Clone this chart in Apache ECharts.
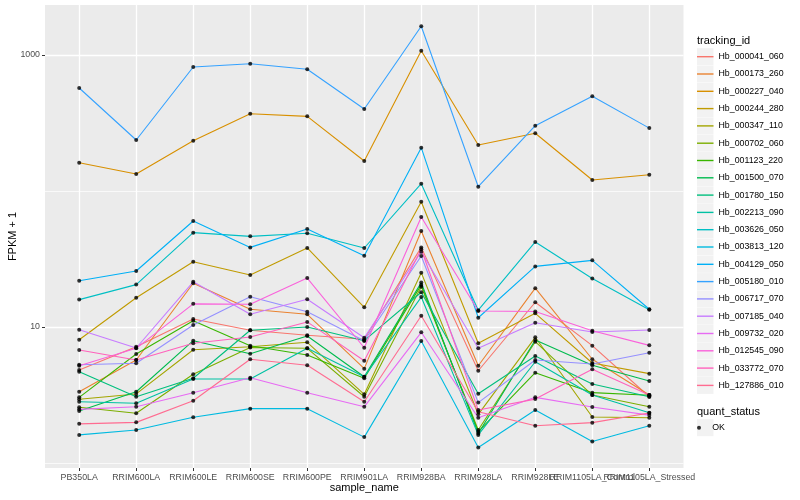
<!DOCTYPE html>
<html><head><meta charset="utf-8">
<script src="https://cdn.jsdelivr.net/npm/echarts@6/dist/echarts.min.js"></script>
<style>html,body{margin:0;padding:0;background:#fff}#c{width:800px;height:500px}</style>
</head><body><div id="c"></div>
<script>
const categories = ['PB350LA','RRIM600LA','RRIM600LE','RRIM600SE','RRIM600PE','RRIM901LA','RRIM928BA','RRIM928LA','RRIM928LE','RRIM1105LA_Control','RRIM1105LA_Stressed'];
const trackingIds = ['Hb_000041_060','Hb_000173_260','Hb_000227_040','Hb_000244_280','Hb_000347_110','Hb_000702_060','Hb_001123_220','Hb_001500_070','Hb_001780_150','Hb_002213_090','Hb_003626_050','Hb_003813_120','Hb_004129_050','Hb_005180_010','Hb_006717_070','Hb_007185_040','Hb_009732_020','Hb_012545_090','Hb_033772_070','Hb_127886_010'];
const colors = ['#F8766D','#EA8331','#D89000','#C09B00','#A3A500','#7CAE00','#39B600','#00BB4E','#00BF7D','#00C1A3','#00BFC4','#00BAE0','#00B0F6','#35A2FF','#9590FF','#C77CFF','#E76BF3','#FA62DB','#FF62BC','#FF6C91'];
const yMajorTicks = [10, 1000];
const yMinorTicks = [1, 100];

const hb_000041_060 = [4.83, 7.16, 11.45, 9.46, 8.69, 8.12, 38.5, 4.77, 15.2, 7.29, 3.07];
const hb_000173_260 = [3.34, 5.72, 20.96, 13.5, 12.4, 4.94, 50.8, 5.19, 19.3, 5.79, 3.16];
const hb_000227_040 = [161.5, 133.4, 234.4, 370, 354, 166.2, 1075, 217.9, 265.7, 120.5, 131.8];
const hb_000244_280 = [8.06, 16.4, 30.2, 24.1, 38.1, 13.96, 83.4, 7.59, 12.6, 5.44, 4.54];
const hb_000347_110 = [2.94, 3.22, 6.81, 7.16, 7.72, 3.20, 25.1, 2.28, 8.40, 2.18, 2.15];
const hb_000702_060 = [2.57, 2.32, 4.49, 7.07, 6.97, 3.07, 19.8, 1.75, 7.80, 3.16, 2.59];
const hb_001123_220 = [3.04, 6.33, 11.1, 7.29, 6.22, 4.20, 20.4, 1.70, 4.61, 3.29, 3.15];
const hb_001500_070 = [2.41, 3.34, 7.93, 6.36, 8.59, 4.31, 21.2, 1.65, 8.02, 5.23, 4.01];
const hb_001780_150 = [4.69, 3.07, 4.20, 9.46, 10.0, 7.93, 18.0, 3.23, 6.12, 3.81, 3.07];
const hb_002213_090 = [2.82, 2.75, 4.15, 4.15, 6.97, 4.31, 16.6, 1.61, 5.55, 3.16, 2.34];
const hb_003626_050 = [15.9, 20.5, 49.4, 46.4, 48.9, 38.1, 113.2, 13.3, 42.2, 22.7, 13.4];
const hb_003813_120 = [1.61, 1.75, 2.17, 2.51, 2.51, 1.55, 7.89, 1.30, 2.45, 1.44, 1.88];
const hb_004129_050 = [21.9, 25.8, 60.2, 38.5, 52.6, 33.4, 208.2, 11.7, 27.9, 30.9, 13.5];
const hb_005180_010 = [572, 237, 816, 863, 785, 401, 1626, 107.5, 302, 497, 290];
const hb_006717_070 = [5.28, 5.41, 10.34, 16.7, 12.96, 7.93, 33.3, 2.78, 5.72, 5.34, 6.47];
const hb_007185_040 = [9.55, 7.01, 21.5, 12.4, 16.0, 8.34, 35.8, 6.97, 10.75, 9.19, 9.50];
const hb_009732_020 = [2.48, 2.59, 3.29, 4.24, 3.29, 2.59, 9.14, 2.15, 3.04, 2.58, 2.25];
const hb_012545_090 = [5.19, 6.97, 14.8, 14.7, 22.9, 7.04, 64.4, 13.1, 13.0, 9.39, 7.33];
const hb_033772_070 = [6.77, 5.72, 7.59, 8.44, 10.9, 5.65, 37.3, 2.45, 2.95, 4.89, 3.16];
const hb_127886_010 = [1.94, 1.99, 2.87, 5.79, 5.23, 2.82, 12.1, 2.38, 1.88, 1.98, 2.33];

const seriesValues = [hb_000041_060, hb_000173_260, hb_000227_040, hb_000244_280, hb_000347_110, hb_000702_060, hb_001123_220, hb_001500_070, hb_001780_150, hb_002213_090, hb_003626_050, hb_003813_120, hb_004129_050, hb_005180_010, hb_006717_070, hb_007185_040, hb_009732_020, hb_012545_090, hb_033772_070, hb_127886_010];

const FONT = 'Liberation Sans, Arial, sans-serif';
const catIdx = categories.map((c, i) => i);
// labels split over two axes so overlapping neighbours are both kept (as in the original)
const labelIdxA = catIdx.filter(i => i !== 9);
const labelIdxB = [9];

const lineSeries = trackingIds.map((id, k) => ({
  name: id,
  type: 'line',
  data: seriesValues[k].map((v, i) => [i, v]),
  symbol: 'none',
  color: colors[k],
  lineStyle: { width: 1.1, color: colors[k] },
  z: 2,
  silent: true
}));
const pointData = [];
seriesValues.forEach(arr => arr.forEach((v, i) => pointData.push([i, v])));
const pointSeries = {
  name: 'OK', type: 'scatter', data: pointData, symbol: 'circle', symbolSize: 4,
  itemStyle: { color: '#000' }, z: 5, silent: true
};

// legend key backgrounds (ggplot style)
const LEG_TOP = 48.05, LEG_STEP = 17.3;
const keyRects = trackingIds.map((id, i) => ({
  type: 'rect', left: 697, top: LEG_TOP + i * LEG_STEP + 0.15,
  shape: { width: 16.5, height: 17 }, style: { fill: '#F2F2F2' }, z: -1
}));
keyRects.push({ type: 'rect', left: 697, top: 419.15, shape: { width: 16.5, height: 17 }, style: { fill: '#F2F2F2' }, z: -1 });

const xLabelStyle = { margin: 5, fontFamily: FONT, fontSize: 8.8, color: '#4D4D4D',
  hideOverlap: false, formatter: v => categories[Math.round(v)] };

const chart = echarts.init(document.getElementById('c'), null, { renderer: 'canvas' });
chart.setOption({
  animation: false,
  backgroundColor: '#fff',
  textStyle: { fontFamily: FONT },
  title: [
    { text: 'tracking_id', left: 697, top: 34.5, padding: 0, textStyle: { fontFamily: FONT, fontSize: 11, fontWeight: 'normal', color: '#000', lineHeight: 13 } },
    { text: 'quant_status', left: 697, top: 405.2, padding: 0, textStyle: { fontFamily: FONT, fontSize: 11, fontWeight: 'normal', color: '#000', lineHeight: 13 } }
  ],
  graphic: keyRects,
  legend: [
    {
      data: trackingIds, orient: 'vertical', left: 697, top: LEG_TOP, padding: 0, itemGap: 0,
      itemWidth: 16.5, itemHeight: 1.4, icon: 'rect', selectedMode: false,
      textStyle: { fontFamily: FONT, fontSize: 8.8, color: '#000', lineHeight: LEG_STEP }
    },
    {
      data: ['OK'], orient: 'vertical', left: 697, top: 419, padding: 0, itemGap: 0,
      itemWidth: 16.5, itemHeight: 4, icon: 'circle', selectedMode: false,
      textStyle: { fontFamily: FONT, fontSize: 8.8, color: '#000', lineHeight: LEG_STEP }
    }
  ],
  grid: { left: 45, right: 116.5, top: 5, bottom: 32, show: true, backgroundColor: '#EBEBEB', borderWidth: 0,
    containLabel: false, outerBoundsMode: 'none' },
  xAxis: [
    {
      type: 'value', min: -0.6, max: 10.6, position: 'bottom',
      name: 'sample_name', nameLocation: 'middle', nameGap: 14, nameMoveOverlap: false,
      nameTextStyle: { fontFamily: FONT, fontSize: 11, color: '#000' },
      axisLine: { show: false, onZero: false },
      axisTick: { show: true, length: 3, customValues: catIdx, lineStyle: { color: '#333', width: 1 } },
      axisLabel: Object.assign({ customValues: labelIdxA }, xLabelStyle),
      splitLine: { show: true, lineStyle: { color: '#fff', width: 1.3 } }
    },
    {
      type: 'value', min: -0.6, max: 10.6, position: 'bottom',
      axisLine: { show: false, onZero: false },
      axisTick: { show: false, customValues: labelIdxB },
      axisLabel: Object.assign({ customValues: labelIdxB }, xLabelStyle),
      splitLine: { show: false }
    }
  ],
  yAxis: [
    {
      type: 'log', logBase: 10, min: 0.919, max: 2331,
      name: 'FPKM + 1', nameLocation: 'middle', nameGap: 27, nameMoveOverlap: false,
      nameTextStyle: { fontFamily: FONT, fontSize: 11, color: '#000' },
      axisLine: { show: false, onZero: false },
      axisTick: { show: true, length: 3, customValues: yMajorTicks, lineStyle: { color: '#333', width: 1 } },
      axisLabel: { customValues: yMajorTicks, margin: 5, fontFamily: FONT, fontSize: 8.8, color: '#4D4D4D',
        formatter: v => String(Math.round(v)) },
      splitLine: { show: true, lineStyle: { color: '#fff', width: 1.3 } }
    },
    {
      type: 'log', logBase: 10, min: 0.919, max: 2331, position: 'left',
      axisLine: { show: false, onZero: false },
      axisTick: { show: false, customValues: yMinorTicks },
      axisLabel: { show: false, customValues: yMinorTicks },
      splitLine: { show: true, lineStyle: { color: '#fff', width: 0.7 } }
    }
  ],
  series: lineSeries.concat([pointSeries])
});
</script></body></html>
